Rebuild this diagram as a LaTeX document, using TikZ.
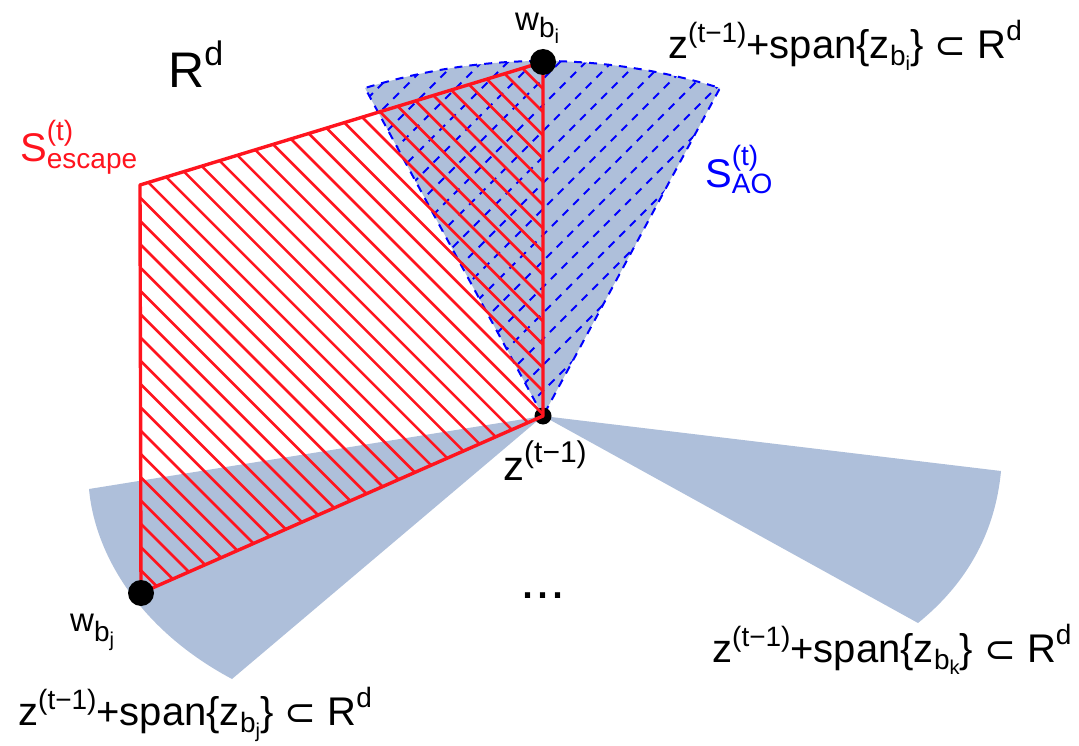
\documentclass[tikz,border=0pt]{standalone}
\usepackage{fontspec}
\setmainfont{Liberation Sans}
\newfontfamily\dejavu{DejaVu Sans}
\definecolor{sect}{RGB}{174,191,218}
\definecolor{myred}{RGB}{255,20,30}
\definecolor{myblue}{RGB}{0,0,255}
\newcommand\fs[1]{\fontsize{#1}{#1}\selectfont}
\newcommand\spanlabel[1]{\fs{40}z\raisebox{16pt}{\fs{28}(t−1)}+span\{z\raisebox{-7pt}{\fs{28}b\raisebox{-5pt}{\fs{20}#1}}\} {\dejavu\fs{38}⊂} R\raisebox{18pt}{\fs{28}d}}
\tikzset{
  sector/.style={fill=sect, draw=none},
  aoline/.style={myblue, line width=2pt, dash pattern=on 8pt off 7pt},
  escline/.style={myred, line width=3.4pt, line join=round},
  hatchred/.style={myred, line width=2.6pt},
  dotbig/.style={circle, fill=black, inner sep=0pt, minimum size=26pt},
  dotsmall/.style={circle, fill=black, inner sep=0pt, minimum size=17pt},
  lab/.style={inner sep=0pt, anchor=base west}
}
\begin{document}
\begin{tikzpicture}[x=1pt, y=-1pt]
\useasboundingbox (0,0) rectangle (1079,746);
\coordinate (z) at (543,416);
\coordinate (wi) at (543,62);
\coordinate (wj) at (141,593);
\coordinate (tl) at (140,185);
% sectors
\fill[sector] (z) -- (89,489) .. controls (95,555) and (140,630) .. (232,679) -- cycle;
\fill[sector] (z) -- (1001,471) .. controls (995,535) and (965,585) .. (918,623) -- cycle;
\fill[sector] (z) -- (365,88) .. controls (483,52) and (602,52) .. (720,88) -- cycle;
% blue hatch in AO
\begin{scope}
\clip (z) -- (365,88) .. controls (483,52) and (602,52) .. (720,88) -- cycle;
\foreach \c in {440,466,...,990} {
  \draw[aoline] ({\c-470},470) -- ({\c-30},30);
}
\end{scope}
\draw[aoline] (z) -- (365,88) .. controls (483,52) and (602,52) .. (720,88) -- cycle;
\node[dotsmall] (zdot) at (z) {};
% red hatch
\begin{scope}
\clip (z) -- (wi) -- (tl) -- (wj) -- cycle;
\foreach \k in {-8,...,36} {
  \draw[hatchred] ({338-\k*23.26+40},40) -- ({338-\k*23.26+640},640);
}
\end{scope}
\draw[escline] (z) -- (wi) -- (tl) -- (wj) -- cycle;
\node[dotbig] (widot) at (wi) {};
\node[dotbig] (wjdot) at (wj) {};
% labels
\node[lab] (rd) at (168,88) {\fs{50}R\raisebox{22pt}{\fs{34}d}};
\node[lab, text=myred] (sesc) at (20,162) {\fs{40}S\rlap{\raisebox{21pt}{\fs{28}(t)}}\raisebox{-7pt}{\fs{28}escape}};
\node[lab, text=myblue] (sao) at (705,188) {\fs{40}S\rlap{\raisebox{22pt}{\fs{28}(t)}}\raisebox{-6pt}{\fs{28}AO}};
\node[lab] (wil) at (515,31) {\fs{33}w\raisebox{-7pt}{\fs{28}b\raisebox{-6pt}{\fs{20}i}}};
\node[lab] (wjl) at (70,631) {\fs{33}w\raisebox{-10pt}{\fs{28}b\raisebox{-5pt}{\fs{20}j}}};
\node[lab] (zl) at (503,480) {\fs{42}z\raisebox{18pt}{\fs{30}(t−1)}};
\node[lab] (spi) at (668,59) {\spanlabel{i}};
\node[lab] (spk) at (712,662) {\spanlabel{k}};
\node[lab] (spj) at (18,725) {\spanlabel{j}};
\node[inner sep=0pt, anchor=base] (dots) at (543,598) {\fs{54}...};
\end{tikzpicture}
\end{document}
